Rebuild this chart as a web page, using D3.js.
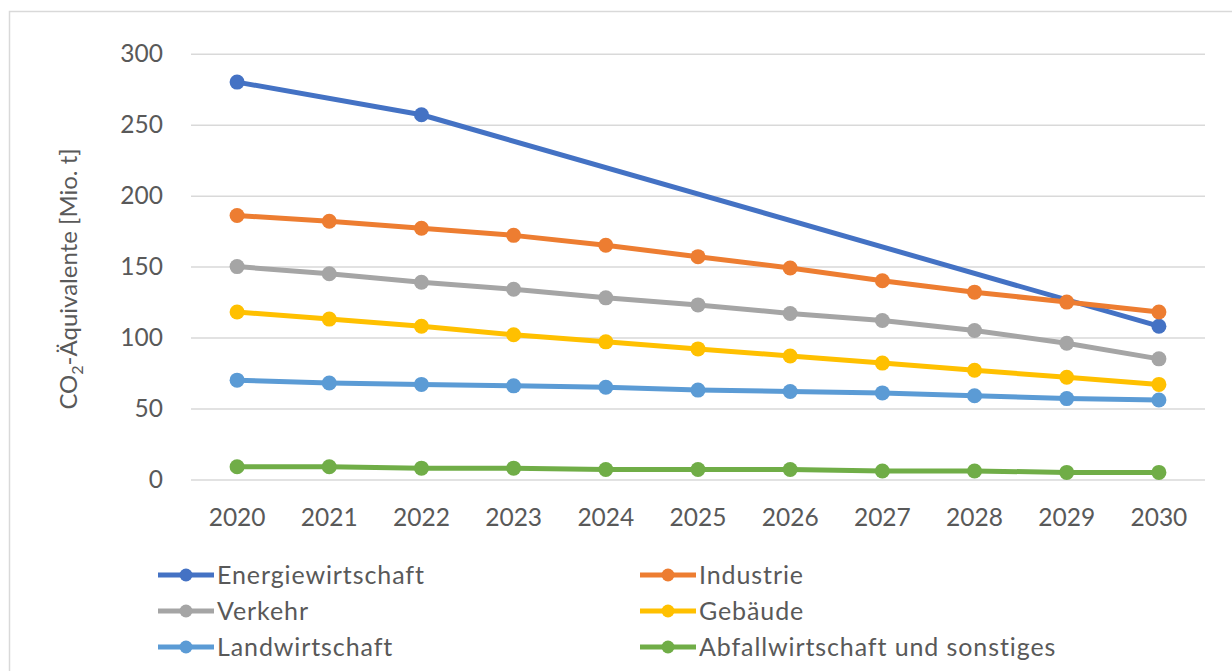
<!DOCTYPE html>
<html><head><meta charset="utf-8">
<script src="https://cdn.jsdelivr.net/npm/d3@7"></script>
<style>body{margin:0;background:#fff}svg text{font-family:Lato,"Open Sans",sans-serif;fill:#595959}</style>
</head><body><svg id="c" width="1232" height="671"></svg>
<script>
const years = ["2020","2021","2022","2023","2024","2025","2026","2027","2028","2029","2030"];
const energiewirtschaft = [280, null, 257, null, null, null, null, null, null, null, 108];
const industrie = [186, 182, 177, 172, 165, 157, 149, 140, 132, 125, 118];
const verkehr = [150, 145, 139, 134, 128, 123, 117, 112, 105, 96, 85];
const gebaeude = [118, 113, 108, 102, 97, 92, 87, 82, 77, 72, 67];
const landwirtschaft = [70, 68, 67, 66, 65, 63, 62, 61, 59, 57, 56];
const abfall = [9, 9, 8, 8, 7, 7, 7, 6, 6, 5, 5];
const yTicks = [0, 50, 100, 150, 200, 250, 300];
const seriesNames = ["Energiewirtschaft","Industrie","Verkehr","Gebäude","Landwirtschaft","Abfallwirtschaft und sonstiges"];
const seriesColors = ["#4472C4","#ED7D31","#A5A5A5","#FFC000","#5B9BD5","#70AD47"];
const seriesData = [energiewirtschaft, industrie, verkehr, gebaeude, landwirtschaft, abfall];

const svg = d3.select("#c");
svg.append("rect").attr("x",9.5).attr("y",11.5).attr("width",1240).attr("height",700)
  .attr("fill","none").attr("stroke","#d9d9d9").attr("stroke-width",1.5);

const x = d3.scaleBand().domain(years).range([191,1205]);
const y = d3.scaleLinear().domain([0,300]).range([479.5,53.7]);

const gy = svg.append("g").attr("transform","translate(191,0)")
  .call(d3.axisLeft(y).tickValues(yTicks).tickSize(-1014).tickPadding(28));
gy.select(".domain").remove();
gy.selectAll("line").attr("stroke","#d9d9d9").attr("stroke-width",1.5);
gy.selectAll("text").attr("font-size",24.5).style("fill","#595959");

const gx = svg.append("g").attr("transform","translate(0,479.5)")
  .call(d3.axisBottom(x).tickSize(0).tickPadding(29));
gx.select(".domain").remove();
gx.selectAll("text").attr("font-size",24.5).style("fill","#595959");

svg.append("text").attr("transform","translate(77,279) rotate(-90)").attr("text-anchor","middle")
  .attr("font-size",24).html('CO<tspan font-size="16" dy="6">2</tspan><tspan dy="-6">-Äquivalente [Mio. t]</tspan>');

seriesData.forEach((vals,i)=>{
  const pts = years.map((yr,j)=>({yr,v:vals[j]})).filter(d=>d.v!==null);
  const line = d3.line().x(d=>x(d.yr)+x.bandwidth()/2).y(d=>y(d.v));
  svg.append("path").datum(pts).attr("d",line).attr("fill","none")
    .attr("stroke",seriesColors[i]).attr("stroke-width",5).attr("stroke-linejoin","round");
  svg.selectAll(null).data(pts).enter().append("circle")
    .attr("cx",d=>x(d.yr)+x.bandwidth()/2).attr("cy",d=>y(d.v)).attr("r",7.5)
    .attr("fill",seriesColors[i]);
});

const lg = svg.append("g");
seriesNames.forEach((n,i)=>{
  const col = i%2, row = Math.floor(i/2);
  const lx = col ? 640 : 158, ly = 575 + row*36;
  lg.append("line").attr("x1",lx).attr("x2",lx+56).attr("y1",ly).attr("y2",ly)
    .attr("stroke",seriesColors[i]).attr("stroke-width",5);
  lg.append("circle").attr("cx",lx+28).attr("cy",ly).attr("r",6.5).attr("fill",seriesColors[i]);
  lg.append("text").attr("x",lx+59).attr("y",ly).attr("dy","0.36em").attr("font-size",25)
    .attr("letter-spacing",0.9).text(n);
});
</script></body></html>
